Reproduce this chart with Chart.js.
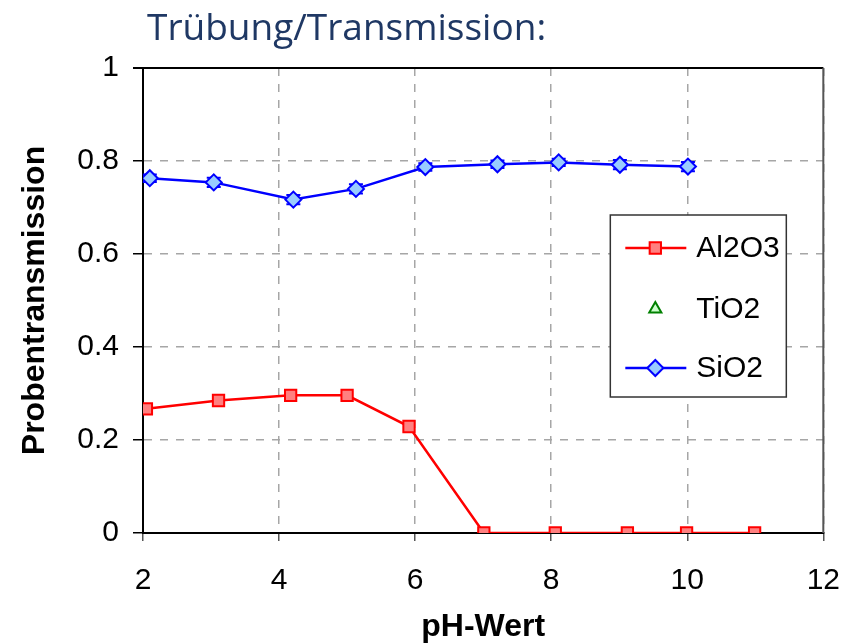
<!DOCTYPE html>
<html>
<head>
<meta charset="utf-8">
<script src="https://cdn.jsdelivr.net/npm/chart.js@4.4.1/dist/chart.umd.min.js"></script>
<style>
  html, body { margin: 0; padding: 0; background: #fff; }
  #wrap { width: 862px; height: 643px; }
</style>
</head>
<body>
<div id="wrap"><canvas id="chart" width="862" height="643"></canvas></div>
<script>
const chartTitle = "Trübung/Transmission:";
const xTitle = "pH-Wert";
const yTitle = "Probentransmission";

const al2o3X = [2.05, 3.11, 4.17, 5.0, 5.91, 7.01, 8.06, 9.12, 9.99, 10.99];
const al2o3Y = [0.267, 0.285, 0.296, 0.296, 0.229, 0, 0, 0, 0, 0];

const tio2X = [];
const tio2Y = [];

const sio2X = [2.1, 3.04, 4.21, 5.13, 6.15, 7.21, 8.11, 9.01, 10.01];
const sio2Y = [0.763, 0.754, 0.717, 0.740, 0.787, 0.793, 0.797, 0.792, 0.788];
const sio2Err = [0.008, 0.01, 0.01, 0.01, 0.008, 0.008, 0.008, 0.01, 0.01];

const xTicks = [2, 4, 6, 8, 10, 12];
const yTicks = [0, 0.2, 0.4, 0.6, 0.8, 1];

const sansFont = "'Liberation Sans', Arial, sans-serif";

function points(xs, ys) {
  return xs.map((x, i) => ({ x: x, y: ys[i] }));
}

// small y error bars with caps, drawn under the markers
const errorBars = {
  id: "errorBars",
  beforeDatasetsDraw(chart) {
    const ctx = chart.ctx;
    const xs = chart.scales.x;
    const ys = chart.scales.y;
    ctx.save();
    ctx.strokeStyle = "#0000ff";
    ctx.lineWidth = 2;
    sio2X.forEach((x, i) => {
      const px = xs.getPixelForValue(x);
      const top = ys.getPixelForValue(sio2Y[i] + sio2Err[i]);
      const bot = ys.getPixelForValue(sio2Y[i] - sio2Err[i]);
      ctx.beginPath();
      ctx.moveTo(px, top); ctx.lineTo(px, bot);
      ctx.moveTo(px - 7, top); ctx.lineTo(px + 7, top);
      ctx.moveTo(px - 7, bot); ctx.lineTo(px + 7, bot);
      ctx.stroke();
    });
    ctx.restore();
  }
};

// frame, title and legend box
const decorations = {
  id: "decorations",
  beforeDatasetsDraw(chart) {
    const ctx = chart.ctx;
    const a = chart.chartArea;
    ctx.save();
    ctx.lineWidth = 2;
    ctx.strokeStyle = "#000";
    ctx.beginPath();
    ctx.moveTo(a.left - 10, a.top); ctx.lineTo(a.right, a.top);
    ctx.stroke();
    ctx.strokeStyle = "#555";
    ctx.beginPath();
    ctx.moveTo(a.right, a.top); ctx.lineTo(a.right, a.bottom);
    ctx.stroke();
    ctx.restore();
  },
  afterDraw(chart) {
    const ctx = chart.ctx;
    const a = chart.chartArea;
    ctx.save();
    ctx.fillStyle = "#1f3864";
    ctx.font = "37px 'Open Sans', sans-serif";
    ctx.textBaseline = "alphabetic";
    ctx.textAlign = "left";
    ctx.fillText(chartTitle, a.left + 4, 40);

    // legend
    const bx = a.right - 213, by = 215, bw = 176, bh = 182;
    ctx.fillStyle = "#fff";
    ctx.fillRect(bx, by, bw, bh);
    ctx.strokeStyle = "#333";
    ctx.lineWidth = 1.5;
    ctx.strokeRect(bx, by, bw, bh);
    const rows = [33, 94, 153];
    chart.data.datasets.forEach((ds, i) => {
      const cy = by + rows[i];
      if (ds.showLine) {
        ctx.strokeStyle = ds.borderColor;
        ctx.lineWidth = ds.borderWidth;
        ctx.beginPath();
        ctx.moveTo(bx + 15, cy); ctx.lineTo(bx + 76, cy);
        ctx.stroke();
      }
      ctx.fillStyle = ds.pointBackgroundColor;
      ctx.strokeStyle = ds.pointBorderColor;
      ctx.lineWidth = ds.pointBorderWidth;
      Chart.helpers.drawPoint(ctx, {
        pointStyle: ds.pointStyle,
        radius: ds.pointRadius,
        rotation: 0,
        borderWidth: ds.pointBorderWidth,
      }, bx + 45, cy);
      ctx.fillStyle = "#000";
      ctx.font = "30px " + sansFont;
      ctx.textBaseline = "middle";
      ctx.textAlign = "left";
      ctx.fillText(ds.label, bx + 86, cy + 1);
    });
    ctx.restore();
  }
};

new Chart(document.getElementById("chart").getContext("2d"), {
  type: "scatter",
  data: {
    datasets: [
      {
        label: "Al2O3",
        data: points(al2o3X, al2o3Y),
        showLine: true,
        borderColor: "#ff0000",
        borderWidth: 2.5,
        pointStyle: "rect",
        pointRadius: 8,
        pointBackgroundColor: "#ff8080",
        pointBorderColor: "#ff0000",
        pointBorderWidth: 2,
      },
      {
        label: "TiO2",
        data: points(tio2X, tio2Y),
        showLine: false,
        borderColor: "#008000",
        pointStyle: "triangle",
        pointRadius: 7,
        pointBackgroundColor: "#ccffcc",
        pointBorderColor: "#008000",
        pointBorderWidth: 2,
      },
      {
        label: "SiO2",
        data: points(sio2X, sio2Y),
        showLine: true,
        borderColor: "#0000ff",
        borderWidth: 2.5,
        pointStyle: "rectRot",
        pointRadius: 8,
        pointBackgroundColor: "#99ccff",
        pointBorderColor: "#0000ff",
        pointBorderWidth: 2,
      },
    ],
  },
  options: {
    responsive: false,
    animation: false,
    layout: { padding: { left: 0, right: 36, top: 68, bottom: 0 } },
    plugins: {
      legend: { display: false },
      tooltip: { enabled: false },
    },
    scales: {
      x: {
        type: "linear",
        min: 2,
        max: 12,
        afterBuildTicks: (s) => { s.ticks = xTicks.map((v) => ({ value: v })); },
        afterFit: (s) => { s.height = 110; },
        ticks: {
          color: "#000",
          font: { family: sansFont, size: 30 },
          padding: 22,
        },
        grid: {
          color: "#a6a6a6",
          lineWidth: 1.5,
          tickColor: "#555",
          tickLength: 8,
          tickBorderDash: [],
        },
        border: { display: true, color: "#000", width: 2, dash: [8, 8] },
        title: {
          display: true,
          text: xTitle,
          color: "#000",
          font: { family: sansFont, size: 32, weight: "bold" },
          padding: { top: 0, bottom: -3 },
        },
      },
      y: {
        type: "linear",
        min: 0,
        max: 1,
        afterBuildTicks: (s) => { s.ticks = yTicks.map((v) => ({ value: v })); },
        afterFit: (s) => { s.width = 143; },
        ticks: {
          color: "#000",
          font: { family: sansFont, size: 30 },
          padding: 14,
          callback: (v) => String(v),
        },
        grid: {
          color: "#a6a6a6",
          lineWidth: 1.5,
          tickColor: "#000",
          tickLength: 10,
          tickBorderDash: [],
        },
        border: { display: true, color: "#000", width: 2, dash: [8, 8] },
        title: {
          display: true,
          text: yTitle,
          color: "#000",
          font: { family: sansFont, size: 32, weight: "bold" },
          padding: { top: 16 },
        },
      },
    },
  },
  plugins: [decorations, errorBars],
});
</script>
</body>
</html>
